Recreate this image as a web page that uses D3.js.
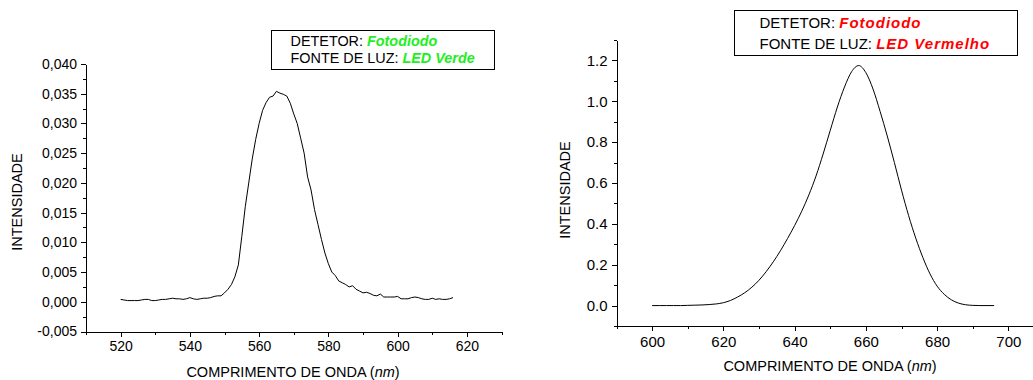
<!DOCTYPE html>
<html>
<head>
<meta charset="utf-8">
<script src="https://cdn.jsdelivr.net/npm/d3@7"></script>
<style>
  body { margin: 0; background: #fff; }
  svg { display: block; font-family: "Liberation Sans", Arial, sans-serif; }
  .axis path, .axis line { stroke: #000; shape-rendering: crispEdges; }
  .axis text { fill: #000; }
</style>
</head>
<body>
<div id="chart"></div>
<script>
// green LED spectrum, 520..616 nm in 1 nm steps
const greenStart = 520;
const greenValues = [
  0.0004, 0.0003, 0.0002, 0.0002, 0.0002, 0.0002, 0.0003, 0.0004, 0.0004, 0.0002,
  0.0002, 0.0003, 0.0004, 0.0004, 0.0005, 0.0006, 0.0005, 0.0005, 0.0004, 0.0005,
  0.0007, 0.0005, 0.0004, 0.0005, 0.0006, 0.0006, 0.0007, 0.0009, 0.0010, 0.0010,
  0.0015, 0.0021, 0.0029, 0.0042, 0.0062, 0.0110, 0.0160, 0.0200, 0.0240, 0.0273,
  0.0300, 0.0322, 0.0335, 0.0344, 0.0346, 0.0354, 0.0351, 0.0349, 0.0346, 0.0334,
  0.0316, 0.0300, 0.0275, 0.0250, 0.0210, 0.0188, 0.0155, 0.0130, 0.0105, 0.0082,
  0.0064, 0.0050, 0.0044, 0.0035, 0.0032, 0.0029, 0.0025, 0.0027, 0.0021, 0.0018,
  0.0015, 0.0016, 0.0014, 0.0011, 0.0010, 0.0013, 0.0008, 0.0008, 0.0008, 0.0008,
  0.0009, 0.0005, 0.0005, 0.0005, 0.0007, 0.0008, 0.0007, 0.0005, 0.0004, 0.0004,
  0.0006, 0.0004, 0.0005, 0.0004, 0.0004, 0.0005, 0.0007
];

// red LED spectrum, 600..696 nm in 2 nm steps
const redStart = 600;
const redValues = [
  0, 0, 0, 0, 0, 0.001, 0.002, 0.003, 0.005, 0.008,
  0.014, 0.025, 0.042, 0.063, 0.09, 0.124, 0.166, 0.214, 0.268, 0.328,
  0.392, 0.462, 0.542, 0.634, 0.742, 0.858, 0.972, 1.07, 1.145, 1.175,
  1.14, 1.06, 0.95, 0.83, 0.70, 0.565, 0.44, 0.33, 0.235, 0.155,
  0.095, 0.055, 0.028, 0.012, 0.004, 0.001, 0, 0, 0
];

const greenXTicks = [520, 540, 560, 580, 600, 620];
const greenYTicks = [-0.005, 0, 0.005, 0.01, 0.015, 0.02, 0.025, 0.03, 0.035, 0.04];
const redXTicks = [600, 620, 640, 660, 680, 700];
const redYTicks = [0, 0.2, 0.4, 0.6, 0.8, 1.0, 1.2];

const xLabel = "COMPRIMENTO DE ONDA (";
const yLabel = "INTENSIDADE";

const greenData = greenValues.map((v, i) => ({ nm: greenStart + i, v }));
const redData = redValues.map((v, i) => ({ nm: redStart + i * 2, v }));

const W = 1033, H = 380;
const svg = d3.select("#chart").append("svg")
  .attr("width", W).attr("height", H);

const commaFmt = d3.formatLocale({ decimal: ",", thousands: ".", grouping: [3], currency: ["", ""], minus: "-" }).format(".3f");
const dotFmt = d3.format(".1f");

function panel(opt) {
  const x = d3.scaleLinear().domain(opt.xDomain).range([opt.left, opt.right]);
  const y = d3.scaleLinear().domain(opt.yDomain).range([opt.bottom, opt.top]);
  const g = svg.append("g");

  // minor ticks first
  g.append("g").attr("class", "axis")
    .attr("transform", `translate(0,${opt.bottom})`)
    .call(d3.axisBottom(x).tickValues(d3.range(opt.xDomain[0], opt.xDomain[1] + 0.01, 10))
      .tickSize(3).tickSizeOuter(0).tickFormat(""))
    .call(a => a.select(".domain").remove());
  g.append("g").attr("class", "axis")
    .attr("transform", `translate(${opt.left},0)`)
    .call(d3.axisLeft(y).tickValues(opt.yMinor)
      .tickSize(3).tickSizeOuter(0).tickFormat(""))
    .call(a => a.select(".domain").remove());

  // major ticks
  g.append("g").attr("class", "axis")
    .attr("transform", `translate(0,${opt.bottom})`)
    .call(d3.axisBottom(x).tickValues(opt.xTicks).tickSize(5).tickPadding(5)
      .tickSizeOuter(0).tickFormat(d3.format("d")))
    .call(a => a.selectAll("text").style("font-size", opt.tickFont + "px"));
  g.append("g").attr("class", "axis")
    .attr("transform", `translate(${opt.left},0)`)
    .call(d3.axisLeft(y).tickValues(opt.yTicks).tickSize(5).tickPadding(4)
      .tickSizeOuter(0).tickFormat(opt.yFmt))
    .call(a => a.selectAll("text").style("font-size", opt.tickFont + "px"));

  // curve
  g.append("path")
    .datum(opt.data)
    .attr("fill", "none")
    .attr("stroke", "#000")
    .attr("stroke-width", 1)
    .attr("d", d3.line().x(d => x(d.nm)).y(d => y(d.v)).curve(opt.curve));

  // axis titles
  const xt = g.append("text")
    .attr("x", opt.xLabelX).attr("y", opt.bottom + 45)
    .attr("text-anchor", "middle")
    .style("font-size", "14.5px");
  xt.append("tspan").text(xLabel);
  xt.append("tspan").style("font-style", "italic").text("nm");
  xt.append("tspan").text(")");

  g.append("text")
    .attr("transform", `translate(${opt.yLabelX},${opt.yLabelY}) rotate(-90)`)
    .attr("text-anchor", "middle")
    .style("font-size", "14.5px")
    .text(yLabel);

  // legend box
  const lg = g.append("g");
  lg.append("rect")
    .attr("x", opt.box[0]).attr("y", opt.box[1])
    .attr("width", opt.box[2]).attr("height", opt.box[3])
    .attr("fill", "#fff").attr("stroke", "#000").attr("stroke-width", 1)
    .attr("shape-rendering", "crispEdges");
  opt.legend.forEach((row, i) => {
    const t = lg.append("text")
      .attr("x", opt.box[0] + opt.textDx)
      .attr("y", opt.box[1] + opt.lineY[i])
      .style("font-size", opt.legendFont + "px");
    t.append("tspan").text(row[0]);
    t.append("tspan")
      .attr("fill", opt.legendColor)
      .style("font-weight", "bold").style("font-style", "italic")
      .style("letter-spacing", opt.spacing)
      .text(row[1]);
  });
}

panel({
  data: greenData,
  xDomain: [510, 630], yDomain: [-0.005, 0.04],
  left: 86, right: 501.5, top: 64, bottom: 331.5,
  xTicks: greenXTicks, yTicks: greenYTicks,
  yMinor: d3.range(-0.005, 0.0401, 0.0025),
  yFmt: commaFmt, tickFont: 14,
  curve: d3.curveLinear,
  xLabelX: 293, yLabelX: 22, yLabelY: 202,
  box: [271.5, 30.5, 223, 38.5], textDx: 19, lineY: [15.5, 32.5],
  legendFont: 14.4, legendColor: "#22ee22", spacing: "0px",
  legend: [["DETETOR: ", "Fotodiodo"], ["FONTE DE LUZ: ", "LED Verde"]]
});

panel({
  data: redData,
  xDomain: [590, 710], yDomain: [-0.1, 1.3],
  left: 616.5, right: 1044, top: 40, bottom: 326,
  xTicks: redXTicks, yTicks: redYTicks,
  yMinor: d3.range(-0.1, 1.301, 0.1),
  yFmt: dotFmt, tickFont: 15,
  curve: d3.curveMonotoneX,
  xLabelX: 830, yLabelX: 570, yLabelY: 190,
  box: [734.5, 10.5, 283, 44.5], textDx: 25, lineY: [17, 38.5],
  legendFont: 15, legendColor: "#ff0000", spacing: "1px",
  legend: [["DETETOR: ", "Fotodiodo"], ["FONTE DE LUZ: ", "LED Vermelho"]]
});
</script>
</body>
</html>
